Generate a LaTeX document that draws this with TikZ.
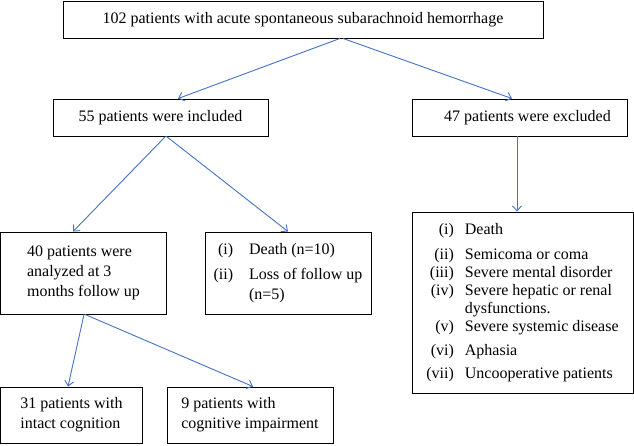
\documentclass[tikz,border=0pt]{standalone}
\usepackage{fontspec}
\setmainfont{Liberation Serif}
\usetikzlibrary{arrows.meta}
\definecolor{flowblue}{RGB}{68,114,196}
\begin{document}
\begin{tikzpicture}[x=1pt,y=-1pt,
		box/.style={rectangle,draw,line width=0.9pt,inner sep=0pt,font=\fontsize{16}{20}\selectfont,align=left},
		flow/.style={draw=flowblue,line width=0.9pt,-{Straight Barb[length=5pt,width=9pt]}}]
			\useasboundingbox (0,0) rectangle (634,445);
			\node[box,minimum width=480pt,minimum height=37pt] (Total) at (303,19.5) {102 patients with acute spontaneous subarachnoid hemorrhage};
			\node[box,minimum width=215pt,minimum height=37pt] (Incl) at (160.5,117.5) {55 patients were included};
			\node[box,minimum width=215pt,minimum height=37pt] (Excl) at (519.5,117.5) {\hspace{16pt}47 patients were excluded};
			\node[box,minimum width=221pt,minimum height=181pt] (Crit) at (522.5,302.5) {\fontsize{16}{18}\selectfont
				\begin{tabular}{@{}r@{\hspace{11pt}}l@{}}
					(i) & Death\\[7pt]
					(ii) & Semicoma or coma\\
					(iii) & Severe mental disorder\\
					(iv) & Severe hepatic or renal\\
					& dysfunctions.\\
					(v) & Severe systemic disease\\[6pt]
					(vi) & Aphasia\\[5pt]
					(vii) & Uncooperative patients
				\end{tabular}};
			\node[box,minimum width=166pt,minimum height=82pt] (Anal) at (83.5,273) {40 patients were\\analyzed at 3\\months follow up};
			\node[box,minimum width=166pt,minimum height=82pt] (Lost) at (288,273) {%
				\begin{tabular}{@{}r@{\hspace{16pt}}l@{}}
					(i) & Death (n=10)\\[5pt]
					(ii) & Loss of follow up\\
					& (n=5)
				\end{tabular}};
			\node[box,minimum width=142pt,minimum height=56pt] (Intact) at (71.5,415) {31 patients with\\intact cognition};
			\node[box,minimum width=166pt,minimum height=56pt] (Impair) at (250,415) {9 patients with\\cognitive impairment};
			\draw[flow] ([xshift=37pt]Total.south) -- ([xshift=17.5pt]Incl.north);
			\draw[flow] ([xshift=40pt]Total.south) -- ([xshift=-7.5pt]Excl.north);
			\draw[flow] ([xshift=-2.5pt]Excl.south) -- ([xshift=-2.5pt]Excl.south |- Crit.north);
			\draw[flow] ([xshift=5pt]Incl.south) -- ([xshift=-10.5pt]Anal.north);
			\draw[flow] ([xshift=6pt]Incl.south) -- (Lost.north);
			\draw[flow] ([xshift=0.5pt]Anal.south) -- ([xshift=-3.5pt]Intact.north);
			\draw[flow] ([xshift=1.5pt]Anal.south) -- ([xshift=3pt]Impair.north);
		\end{tikzpicture}
\end{document}
